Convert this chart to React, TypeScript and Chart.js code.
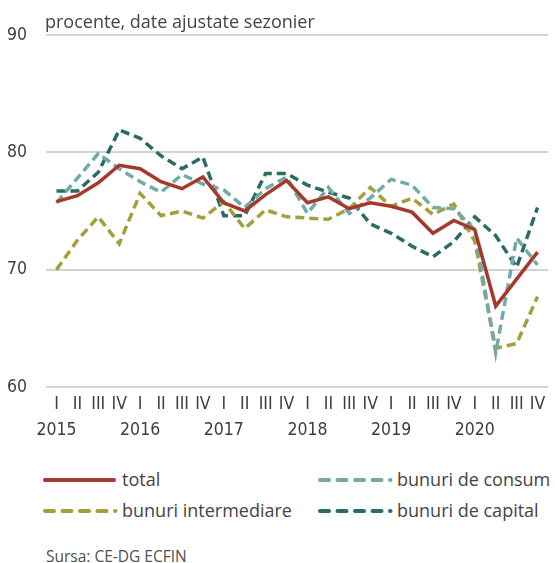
import React, { useEffect, useRef } from "react";
import { Chart, registerables } from "chart.js";

Chart.register(...registerables);

const quarters = ["I", "II", "III", "IV"];
const years = ["2015", "2016", "2017", "2018", "2019", "2020"];

const totalValues = [75.8, 76.3, 77.4, 78.9, 78.6, 77.5, 76.9, 77.9, 75.7, 75.0, 76.4, 77.6, 75.7, 76.2, 75.2, 75.7, 75.4, 74.9, 73.1, 74.2, 73.4, 66.9, 69.2, 71.5];
const consumValues = [75.7, 77.8, 79.9, 78.6, 77.5, 76.6, 78.1, 77.3, 76.8, 75.3, 76.9, 77.9, 74.8, 77.0, 74.8, 76.1, 77.7, 77.2, 75.3, 75.2, 73.4, 62.9, 72.7, 70.4];
const intermediareValues = [70.0, 72.5, 74.5, 72.2, 76.5, 74.6, 75.0, 74.4, 75.8, 73.5, 75.1, 74.5, 74.4, 74.3, 75.2, 77.0, 75.4, 76.1, 74.7, 75.6, 72.4, 63.3, 63.7, 67.7];
const capitalValues = [76.7, 76.7, 78.3, 81.9, 81.2, 79.7, 78.6, 79.6, 74.6, 74.6, 78.2, 78.2, 77.2, 76.6, 76.1, 73.9, 73.1, 72.0, 71.1, 72.4, 74.5, 72.9, 70.2, 75.3];

const yTicks = [60, 70, 80, 90];

const COLORS = {
  total: "#A63A2A",
  consum: "#72A9A9",
  intermediare: "#A3A03A",
  capital: "#2B6B65",
};

const labels: string[][] = [];
years.forEach((y) => quarters.forEach((q, i) => labels.push(i === 0 ? [q, y] : [q, ""])));

const TEXT = "#3d3d3d";
const SANS = "'Open Sans', 'Noto Sans', sans-serif";
const NARROW = "'Liberation Sans Narrow', 'DejaVu Sans Condensed', sans-serif";

function Swatch({ color, dashed }: { color: string; dashed: boolean }) {
  return (
    <svg width={76} height={8} style={{ display: "block" }}>
      <line
        x1={2}
        y1={4}
        x2={dashed ? 72.5 : 71}
        y2={4}
        stroke={color}
        strokeWidth={4}
        strokeLinecap="round"
        strokeDasharray={dashed ? "9 8.5" : undefined}
      />
    </svg>
  );
}

export default function App() {
  const ref = useRef<HTMLCanvasElement | null>(null);

  useEffect(() => {
    if (!ref.current) return;
    const mk = (label: string, data: number[], color: string, dashed: boolean) => ({
      label,
      data,
      borderColor: color,
      backgroundColor: color,
      borderWidth: 3.5,
      borderDash: dashed ? [9, 5] : [],
      pointRadius: 0,
      tension: 0,
      fill: false,
    });
    const chart = new Chart(ref.current, {
      type: "line",
      data: {
        labels,
        datasets: [
          mk("total", totalValues, COLORS.total, false),
          mk("bunuri de consum", consumValues, COLORS.consum, true),
          mk("bunuri intermediare", intermediareValues, COLORS.intermediare, true),
          mk("bunuri de capital", capitalValues, COLORS.capital, true),
        ],
      },
      options: {
        animation: false,
        responsive: false,
        devicePixelRatio: 1,
        layout: { padding: { left: 0, right: 7, top: 35, bottom: 0 } },
        plugins: { legend: { display: false }, tooltip: { enabled: false } },
        scales: {
          x: {
            offset: true,
            grid: { display: false, drawTicks: false },
            border: { display: false },
            ticks: {
              autoSkip: false,
              maxRotation: 0,
              padding: 5,
              color: TEXT,
              font: { family: NARROW, size: 17.5, lineHeight: 1.46 },
            },
            afterFit: (s: any) => {
              s.height = 63;
            },
          },
          y: {
            min: 60,
            max: 90,
            afterBuildTicks: (s: any) => {
              s.ticks = yTicks.map((v) => ({ value: v }));
            },
            grid: { color: "#d4d4d4", lineWidth: 2, drawTicks: false, tickLength: 0 },
            border: { display: false },
            ticks: {
              padding: 19,
              color: TEXT,
              font: { family: NARROW, size: 17.5 },
            },
            afterFit: (s: any) => {
              s.width = 46;
            },
          },
        },
      },
    });
    return () => chart.destroy();
  }, []);

  const legendText: React.CSSProperties = {
    position: "absolute",
    fontFamily: SANS,
    fontSize: 18,
    lineHeight: "18px",
    color: "#444",
    whiteSpace: "nowrap",
  };

  return (
    <div style={{ position: "absolute", left: 0, top: 0, width: 555, height: 563, background: "#fff", overflow: "hidden" }}>
      <canvas ref={ref} width={555} height={450} style={{ position: "absolute", left: 0, top: 0, width: 555, height: 450 }} />
      <div style={{ ...legendText, left: 45, top: 12 }}>procente, date ajustate sezonier</div>

      <div style={{ position: "absolute", left: 43, top: 476 }}><Swatch color={COLORS.total} dashed={false} /></div>
      <div style={{ ...legendText, left: 122, top: 470 }}>total</div>
      <div style={{ position: "absolute", left: 318, top: 476 }}><Swatch color={COLORS.consum} dashed={true} /></div>
      <div style={{ ...legendText, left: 397, top: 470 }}>bunuri de consum</div>

      <div style={{ position: "absolute", left: 43, top: 506.5 }}><Swatch color={COLORS.intermediare} dashed={true} /></div>
      <div style={{ ...legendText, left: 122, top: 500.5 }}>bunuri intermediare</div>
      <div style={{ position: "absolute", left: 318, top: 506.5 }}><Swatch color={COLORS.capital} dashed={true} /></div>
      <div style={{ ...legendText, left: 397, top: 500.5 }}>bunuri de capital</div>

      <div style={{ ...legendText, left: 46, top: 548, fontSize: 15.5, lineHeight: "16px", color: "#505050" }}>Sursa: CE-DG ECFIN</div>
    </div>
  );
}
